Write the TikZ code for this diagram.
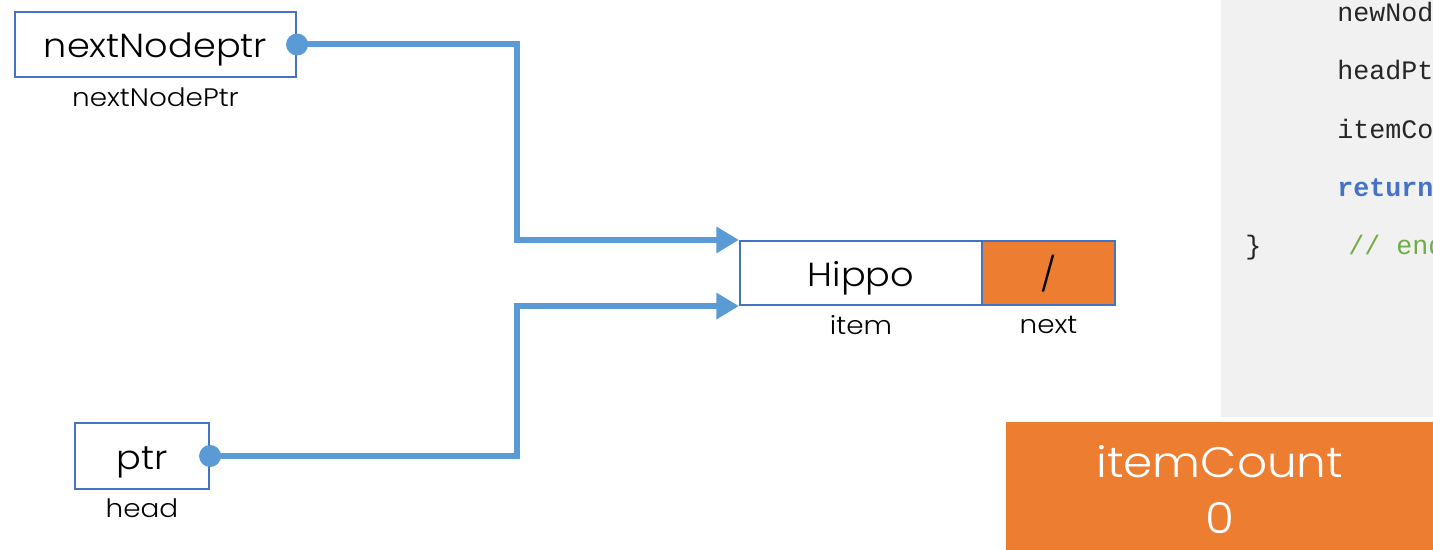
\documentclass[tikz,border=0pt]{standalone}
\usepackage{fontspec}
\setmainfont{Poppins}[UprightFont=* Light, FakeStretch=1.1]
\newfontfamily\codefont{Liberation Mono}
\usetikzlibrary{arrows.meta}
\definecolor{boxblue}{HTML}{4472C4}
\definecolor{linkblue}{HTML}{5B9BD5}
\definecolor{nodeorange}{HTML}{ED7D31}
\definecolor{panelgray}{HTML}{F1F1F1}
\definecolor{codetext}{HTML}{262626}
\definecolor{codekey}{HTML}{4472C4}
\definecolor{codecomment}{HTML}{70AD47}
\tikzset{
  varbox/.style={draw=boxblue, line width=1.6pt, fill=white, inner sep=0pt,
    text height=23pt, text depth=3pt,
    font=\fontsize{25}{28}\selectfont, text=black},
  cellbox/.style={varbox, minimum height=64*0.75pt},
  caption/.style={inner sep=0pt, font=\fontsize{19}{22}\selectfont, text=black},
  link/.style={draw=linkblue, line width=4.5pt,
    -{Triangle[length=17pt, width=19pt]}},
  linkdot/.style={fill=linkblue},
  codeline/.style={anchor=base west, inner sep=0pt,
    font=\codefont\fontsize{20}{24}\selectfont, text=codetext},
}
\begin{document}
\begin{tikzpicture}[x=0.75pt, y=-0.75pt]
\useasboundingbox (0,0) rectangle (1433,549);

% code listing panel, cut off at the right edge
\fill[panelgray] (1221,0) rectangle (1433,417);
\begin{scope}
  \clip (1221,0) rectangle (1433,417);
  \node[codeline] (c1) at (1337,22) {newNode->setNext(headPtr);};
  \node[codeline] (c2) at (1337,80) {headPtr = newNode;};
  \node[codeline] (c3) at (1337,138) {itemCount++;};
  \node[codeline, text=codekey, font=\codefont\bfseries\fontsize{20}{24}\selectfont] (c4) at (1337,196) {return true;};
  \node[codeline] (c5) at (1245,254) {\}};
  \node[codeline, text=codecomment] (c6) at (1348,254) {// end add};
\end{scope}

% pointer variables
\node[varbox, minimum width=281*0.75pt, minimum height=65*0.75pt] (nnp) at (155.5,44.5) {nextNodeptr};
\node[caption] (nnplbl) at (155.5,97) {nextNodePtr};
\node[varbox, minimum width=134*0.75pt, minimum height=66*0.75pt] (ptr) at (142,456) {ptr};
\node[caption] (ptrlbl) at (142,508) {head};

% list node
\node[cellbox, minimum width=242*0.75pt] (item) at (861,273) {Hippo};
\node[cellbox, minimum width=133*0.75pt, fill=nodeorange] (next) at (1048.5,273) {/};
\node[caption] (itemlbl) at (861,325) {item};
\node[caption] (nextlbl) at (1048.5,325) {next};

% links
\coordinate (bend) at (517,0);
\draw[link] (nnp.east) -| (bend |- item.north west) -- (item.north west);
\draw[link] (ptr.east) -| (bend |- item.south west) -- (item.south west);
\fill[linkdot] (nnp.east) circle (11);
\fill[linkdot] (ptr.east) circle (11);

% counter (runs past the bottom edge of the page)
\node[fill=nodeorange, minimum width=427*0.75pt, minimum height=135*0.75pt, inner sep=0pt,
  anchor=north west, text=white, align=center,
  font=\fontsize{32}{42}\selectfont] (count) at (1006,422) {itemCount\\0};
\end{tikzpicture}
\end{document}
